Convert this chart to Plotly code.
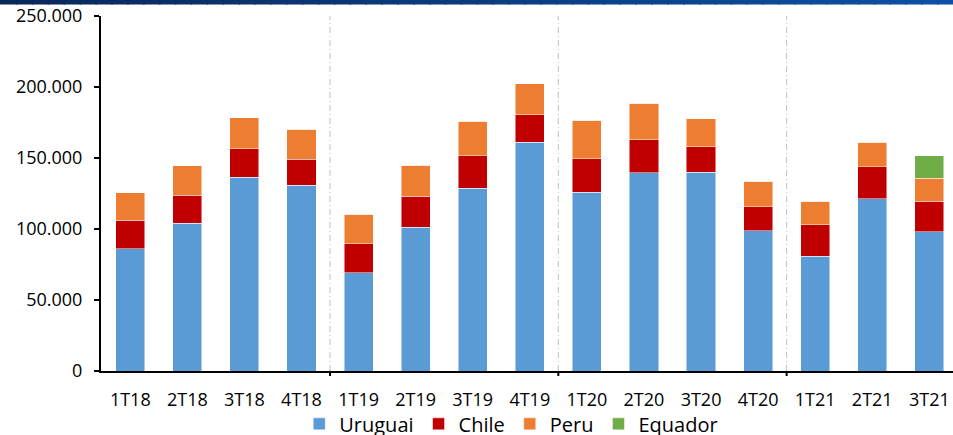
import plotly.graph_objects as go

categories = ["1T18", "2T18", "3T18", "4T18", "1T19", "2T19", "3T19", "4T19",
              "1T20", "2T20", "3T20", "4T20", "1T21", "2T21", "3T21"]
uruguai = [86100, 103900, 136600, 130900, 69300, 101400, 128800, 161200,
           126000, 139600, 140100, 98800, 80700, 121300, 98100]
chile = [19900, 19700, 19900, 18300, 20200, 21500, 22700, 19400,
         23600, 23200, 18000, 16900, 22300, 22700, 21300]
peru = [19500, 20900, 22000, 21100, 20800, 22100, 24400, 21600,
        27000, 25800, 19700, 18100, 16700, 17200, 16200]
equador = [0, 0, 0, 0, 0, 0, 0, 0, 0, 0, 0, 0, 0, 0, 16000]
y_ticks = [0, 50000, 100000, 150000, 200000, 250000]
year_breaks = [3.5, 7.5, 11.5]

FONT = "Open Sans, Liberation Sans, sans-serif"
xpos = list(range(len(categories)))

series = [
    ("Uruguai", uruguai, "#5B9BD5"),
    ("Chile", chile, "#C00000"),
    ("Peru", peru, "#ED7D31"),
    ("Equador", equador, "#70AD47"),
]

fig = go.Figure()
for name, vals, col in series:
    fig.add_trace(go.Bar(
        x=xpos, y=vals, name=name,
        marker=dict(color=col, line=dict(color="rgba(255,255,255,0.6)", width=0.8)),
        hoverinfo="x+y+name",
    ))

L, T, B = 101, 16, 63.5
W, H = 953, 435
pw = W - L
ph = H - T - B

shapes = []
# year separators
for xb in year_breaks:
    shapes.append(dict(type="line", xref="x", yref="y", x0=xb, x1=xb, y0=0, y1=250000,
                       line=dict(color="#BFBFBF", width=1, dash="6px,3px,1px,3px"), layer="below"))
    shapes.append(dict(type="line", xref="x", yref="paper", x0=xb, x1=xb, y0=0, y1=-5 / ph,
                       line=dict(color="black", width=2)))
# header gradient band
n = 60
c0 = (10, 40, 90)
c1 = (12, 80, 165)
x_left = -L / pw
for i in range(n):
    t = i / (n - 1)
    col = "rgb(%d,%d,%d)" % tuple(round(a + (b - a) * t) for a, b in zip(c0, c1))
    xa = x_left + (1 - x_left) * i / n
    xb2 = x_left + (1 - x_left) * (i + 1) / n + 0.002
    shapes.append(dict(type="rect", xref="paper", yref="paper", x0=xa, x1=xb2,
                       y0=1 + (T - 4.5) / ph, y1=1 + (T + 1) / ph,
                       fillcolor=col, line=dict(width=0), layer="above"))

fig.update_layout(
    width=W, height=H,
    margin=dict(l=L, r=0, t=T, b=B, pad=0, autoexpand=False),
    barmode="stack",
    bargap=0.49,
    plot_bgcolor="white", paper_bgcolor="white",
    separators=",.",
    font=dict(family=FONT, color="black", size=18),
    shapes=shapes,
    showlegend=True,
    legend=dict(orientation="h", x=0.4815, xanchor="center", y=-0.094, yanchor="top",
                font=dict(size=20, family=FONT, color="black"), traceorder="normal",
                itemwidth=30, tracegroupgap=0, bgcolor="rgba(0,0,0,0)"),
    xaxis=dict(range=[-0.513, 14.415], tickmode="array", tickvals=xpos, ticktext=categories,
               ticks="", showgrid=False, zeroline=False, showline=True, linecolor="black",
               linewidth=2, ticklabelstandoff=11,
               tickfont=dict(size=18, family=FONT, color="black")),
    yaxis=dict(range=[0, 250000], tickmode="array", tickvals=y_ticks, tickformat=",d",
               ticks="outside", ticklen=5, tickwidth=1.5, tickcolor="black",
               showgrid=False, zeroline=False, showline=True, linecolor="black", linewidth=2,
               ticklabelstandoff=8,
               tickfont=dict(size=18, family=FONT, color="black")),
)

fig.write_html("out.html", config={"displayModeBar": False},
               post_script="document.body.style.margin='0';document.body.style.overflow='hidden';")
